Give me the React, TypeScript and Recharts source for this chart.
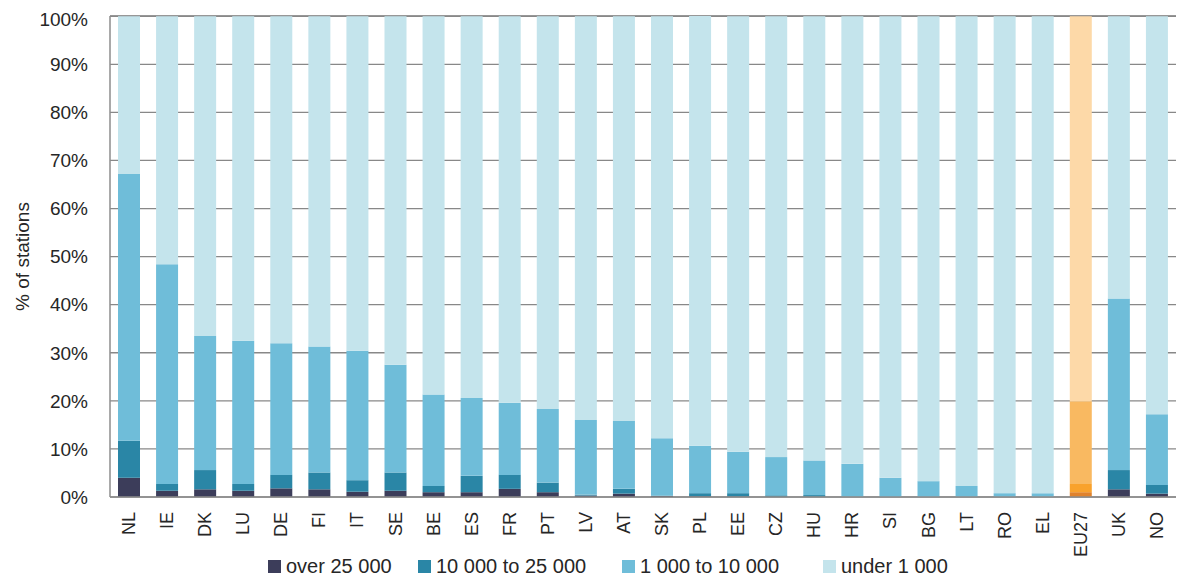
import React from 'react';
import { BarChart, Bar, XAxis, YAxis, CartesianGrid, Legend, Cell } from 'recharts';

const countries = ['NL', 'IE', 'DK', 'LU', 'DE', 'FI', 'IT', 'SE', 'BE', 'ES', 'FR', 'PT', 'LV', 'AT', 'SK', 'PL', 'EE', 'CZ', 'HU', 'HR', 'SI', 'BG', 'LT', 'RO', 'EL', 'EU27', 'UK', 'NO'];
const over25k = [4.0, 1.3, 1.6, 1.3, 1.8, 1.6, 1.1, 1.3, 1.0, 1.0, 1.7, 1.0, 0.3, 0.7, 0.2, 0.15, 0.1, 0.05, 0.05, 0, 0, 0, 0, 0, 0, 1.0, 1.6, 0.7];
const from10kTo25k = [7.7, 1.4, 4.0, 1.4, 2.8, 3.5, 2.4, 3.8, 1.3, 3.4, 2.9, 2.0, 0.2, 1.0, 0.1, 0.65, 0.7, 0.3, 0.35, 0.05, 0, 0, 0, 0, 0, 1.7, 4.0, 1.8];
const from1kTo10k = [55.5, 45.7, 27.9, 29.8, 27.4, 26.2, 26.9, 22.4, 19.0, 16.2, 15.0, 15.3, 15.5, 14.1, 11.9, 9.85, 8.6, 7.95, 7.2, 6.85, 4.0, 3.3, 2.3, 0.8, 0.8, 17.2, 35.7, 14.7];
const under1k = [32.8, 51.6, 66.5, 67.5, 68.0, 68.7, 69.6, 72.5, 78.7, 79.4, 80.4, 81.7, 84.0, 84.2, 87.8, 89.4, 90.6, 91.7, 92.4, 93.1, 96.0, 96.7, 97.7, 99.2, 99.2, 80.1, 58.7, 82.8];
const yTicks = [0, 10, 20, 30, 40, 50, 60, 70, 80, 90, 100];

const data = countries.map((c, i) => ({
  country: c,
  over25k: over25k[i],
  mid: from10kTo25k[i],
  small: from1kTo10k[i],
  under: under1k[i],
}));

const series = [
  { key: 'over25k', name: 'over 25 000', color: '#3c3d5a', eu: '#e0822c' },
  { key: 'mid', name: '10 000 to 25 000', color: '#2a86a6', eu: '#f9a22c' },
  { key: 'small', name: '1 000 to 10 000', color: '#6fbdd9', eu: '#f9b961' },
  { key: 'under', name: 'under 1 000', color: '#c4e4ec', eu: '#fdd9a8' },
];
// legend slot widths, matching the original spacing
const legendSlots = [150, 204, 201, 140];

const font = '"Liberation Sans", Arial, sans-serif';

const XTick = (props: any) => {
  const { x, y, payload } = props;
  return (
    <text
      x={x}
      y={y}
      transform={`rotate(-90, ${x}, ${y})`}
      dx={-7}
      textAnchor="end"
      dominantBaseline="central"
      fontSize={18}
      fill="#262626"
      fontFamily={font}
    >
      {payload.value}
    </text>
  );
};

const LegendContent = () => (
  <div style={{ display: 'flex', justifyContent: 'flex-start', height: 28, alignItems: 'center', fontFamily: font, fontSize: 20, color: '#262626', paddingLeft: 260 }}>
    {series.map((s, i) => (
      <div key={s.key} style={{ display: 'flex', alignItems: 'center', width: legendSlots[i], whiteSpace: 'nowrap' }}>
        <span style={{ width: 13, height: 13, background: s.color, display: 'inline-block', marginRight: 5 }} />
        {s.name}
      </div>
    ))}
  </div>
);

export default function App() {
  return (
    <div style={{ width: 1178, height: 572, fontFamily: font }}>
      <BarChart width={1178} height={572} data={data} margin={{ top: 8, right: 10, left: 0, bottom: 0 }}>
        <CartesianGrid vertical={false} stroke="#888888" strokeWidth={1.3} />
        <XAxis
          dataKey="country"
          height={55}
          interval={0}
          tickLine={false}
          axisLine={{ stroke: '#8c8c8c', strokeWidth: 1.5 }}
          tick={<XTick />}
        />
        <YAxis
          width={102}
          domain={[0, 100]}
          ticks={yTicks}
          tickFormatter={(v: number) => `${v}%`}
          tickLine={false}
          tickMargin={16}
          axisLine={{ stroke: '#8c8c8c', strokeWidth: 1.5 }}
          tick={{ fontSize: 19, fill: '#262626', fontFamily: font }}
          label={{ value: '% of stations', angle: -90, position: 'insideLeft', offset: 14, style: { fontSize: 19, fill: '#262626', fontFamily: font, textAnchor: 'middle' } }}
        />
        <Legend verticalAlign="bottom" height={28} content={<LegendContent />} />
        {series.map((s) => (
          <Bar key={s.key} dataKey={s.key} name={s.name} stackId="a" fill={s.color} barSize={22} isAnimationActive={false}>
            {data.map((d) => (
              <Cell key={d.country} fill={d.country === 'EU27' ? s.eu : s.color} />
            ))}
          </Bar>
        ))}
      </BarChart>
    </div>
  );
}
